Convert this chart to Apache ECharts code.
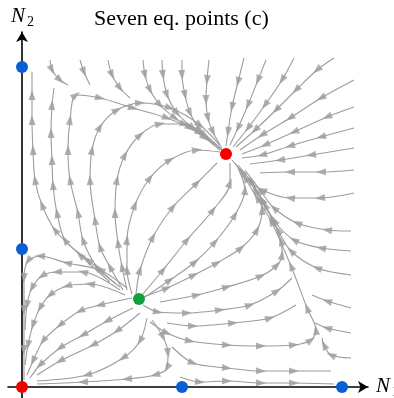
<!DOCTYPE html>
<html>
<head>
<meta charset="utf-8">
<script src="https://cdn.jsdelivr.net/npm/echarts@6/dist/echarts.min.js"></script>
<style>
html, body { margin: 0; padding: 0; background: #fff; }
#chart { width: 394px; height: 398px; }
</style>
</head>
<body>
<div id="chart"></div>
<script>
// equilibrium points (N1, N2)
const stablePoints = [[0, 0], [20.4, 23.3]];
const saddlePoints = [[16, 0], [32, 0], [0, 13.8], [0, 32]];
const unstablePoints = [[11.7, 8.8]];

// streamlines, in flow direction
const topInflow = [
	[[2.8, 32.7], [3.0, 31.7], [3.8, 30.7], [4.6, 30.2]],
	[[5.8, 32.7], [6.2, 31.5], [6.8, 30.2]],
	[[8.6, 32.7], [9.0, 31.2], [9.8, 29.9], [10.8, 28.9]],
	[[12.1, 32.7], [12.3, 31.2], [12.8, 29.7], [13.8, 28.2], [15.3, 26.9], [16.8, 25.9], [18.3, 24.9], [19.8, 23.7]],
	[[14.0, 32.7], [14.1, 31.2], [14.5, 29.2], [15.5, 27.4], [17.1, 25.9], [18.8, 24.7]],
	[[16.0, 32.7], [16.0, 31.2], [16.3, 29.2], [16.8, 27.4], [17.8, 25.7], [19.3, 24.2]],
	[[18.7, 32.7], [18.5, 30.7], [18.4, 28.7], [18.6, 26.9], [19.1, 25.5], [19.8, 24.2]],
	[[22.2, 32.9], [21.6, 30.5], [21.0, 28.0], [20.6, 25.5], [20.4, 24.1]],
	[[24.4, 32.7], [23.6, 30.7], [22.6, 28.2], [21.6, 25.9], [20.8, 24.2]],
	[[27.2, 32.9], [26.0, 30.7], [24.3, 28.2], [22.6, 25.9], [21.1, 24.0]],
	[[31.2, 32.9], [29.5, 31.7], [27.4, 29.7], [25.4, 27.7], [23.3, 25.7], [21.4, 24.0]]
];
const rightInflow = [
	[[33.2, 30.7], [29.9, 28.9], [26.8, 26.9], [24.0, 25.2], [21.8, 23.7]],
	[[33.2, 28.0], [30.5, 27.0], [27.2, 25.5], [24.3, 24.2], [22.0, 23.3]],
	[[33.2, 25.9], [29.9, 25.0], [26.8, 24.1], [24.0, 23.2], [22.0, 22.9]],
	[[33.2, 23.9], [28.9, 23.2], [25.8, 22.7], [22.8, 22.3]],
	[[33.2, 21.7], [29.9, 21.5], [26.8, 21.5], [23.8, 21.4]],
	[[33.2, 19.4], [29.8, 18.9], [26.8, 18.9], [24.0, 19.7], [22.3, 20.9]],
	[[32.9, 15.6], [30.5, 15.7], [27.5, 16.4], [25.2, 17.9], [23.8, 19.7], [22.3, 21.7]],
	[[32.9, 13.6], [29.9, 13.9], [27.2, 14.7], [25.2, 16.6], [24.0, 18.7], [22.8, 20.9]],
	[[32.9, 11.2], [29.5, 11.9], [26.9, 13.6], [25.6, 15.7], [24.3, 18.2], [22.8, 20.7]],
	[[32.9, 7.9], [30.5, 8.6], [29.0, 9.2]],
	[[32.9, 5.4], [30.5, 5.9], [29.3, 6.4]],
	[[32.9, 2.9], [30.9, 3.2], [30.2, 4.2], [30.0, 4.9]]
];
const greenRight = [
	[[12.1, 9.0], [14.5, 9.9], [17.2, 11.2], [19.5, 12.4], [21.9, 13.9], [23.5, 15.7], [24.0, 17.7], [23.3, 19.7], [22.0, 21.5], [21.0, 22.7]],
	[[13.8, 8.5], [17.5, 9.2], [20.5, 10.0], [23.9, 11.1], [25.5, 12.2], [26.0, 13.2], [25.9, 14.6], [25.0, 16.9], [24.0, 18.7], [22.8, 20.7], [21.6, 22.2]],
	[[12.1, 8.2], [13.6, 7.5], [16.5, 7.4], [19.8, 7.7], [22.8, 8.2], [25.5, 9.6], [27.0, 10.9]],
	[[14.5, 6.4], [17.1, 6.1], [21.1, 6.4], [24.8, 6.9], [27.4, 8.2]],
	[[12.8, 6.5], [14.5, 5.4], [16.8, 4.6], [20.5, 4.2], [23.9, 4.1], [27.2, 4.2], [28.9, 4.7], [29.4, 5.7], [28.5, 7.9], [26.9, 12.1], [24.9, 16.6], [23.5, 18.9], [22.3, 20.9], [21.3, 22.4]],
	[[15.0, 4.0], [17.1, 2.4], [20.5, 1.9], [23.9, 1.6], [27.2, 1.6], [30.9, 1.6]],
	[[15.8, 1.0], [17.8, 0.5], [20.5, 0.6], [23.9, 0.4], [27.2, 0.4], [31.2, 0.3]]
];
const greenDown = [
	[[13.0, 6.7], [14.1, 5.0], [14.6, 3.4], [14.5, 1.9], [13.3, 1.2], [10.5, 0.8], [6.1, 0.5], [1.5, 0.3]],
	[[11.0, 8.9], [7.8, 8.2], [5.8, 7.6], [3.8, 6.2], [2.1, 4.6], [1.1, 2.6], [0.5, 1.2]],
	[[11.1, 7.9], [8.5, 6.6], [6.1, 5.2], [3.8, 3.9], [1.8, 2.2], [0.8, 0.9]],
	[[11.8, 7.4], [9.5, 5.6], [7.1, 4.2], [3.8, 2.6], [1.5, 1.2]],
	[[12.5, 6.9], [11.8, 4.6], [10.1, 2.9], [6.5, 1.2], [1.5, 0.6]]
];
const greenLeft = [
	[[10.5, 9.9], [7.8, 11.7], [4.5, 12.4], [1.8, 13.1], [0.6, 12.6], [0.2, 10.9], [0.2, 7.7], [0.2, 3.7], [0.2, 0.7]],
	[[9.8, 9.7], [6.1, 11.5], [3.5, 11.5], [2.0, 11.1], [1.0, 9.9], [0.5, 8.2], [0.3, 5.7]],
	[[10.3, 9.2], [6.8, 10.3], [4.5, 10.1], [2.8, 9.2], [1.8, 7.9], [1.1, 6.2], [0.6, 4.2], [0.3, 2.2]]
];
const greenUp = [
	[[8.8, 10.5], [5.8, 13.2], [3.3, 15.7], [2.0, 18.2], [1.3, 20.7], [1.1, 23.7], [1.0, 26.7], [1.0, 29.2], [1.0, 31.5]],
	[[9.4, 10.3], [6.6, 12.7], [4.3, 14.7], [3.5, 17.4], [3.1, 20.2], [3.0, 22.7], [2.9, 25.4], [3.0, 28.2], [3.2, 29.9]],
	[[9.8, 10.0], [7.5, 12.0], [6.1, 14.7], [5.6, 17.4], [4.8, 20.7], [4.6, 23.7], [4.8, 26.7], [5.4, 29.2], [7.8, 28.9], [11.1, 27.9], [14.5, 26.9], [17.8, 25.4], [20.0, 23.7]],
	[[10.1, 9.7], [8.8, 12.0], [7.8, 14.0], [7.3, 16.7], [6.8, 20.7], [7.0, 23.7], [7.8, 26.0], [9.5, 27.7], [11.8, 28.4], [14.8, 27.9], [17.8, 26.2], [20.0, 23.9]],
	[[10.5, 9.7], [10.0, 12.0], [9.6, 14.4], [9.3, 17.4], [9.5, 20.7], [10.3, 23.2], [11.8, 25.2], [13.8, 26.3], [16.3, 26.3], [18.3, 25.2], [20.0, 23.7]],
	[[11.0, 9.3], [10.5, 11.7], [10.5, 14.7], [11.3, 18.2], [12.8, 20.9], [14.8, 22.7], [17.5, 23.7], [19.8, 23.5]],
	[[11.4, 9.3], [11.8, 11.7], [13.1, 15.0], [15.1, 18.0], [17.5, 20.4], [19.5, 22.4]],
	[[12.0, 9.2], [14.1, 11.7], [16.5, 14.7], [19.1, 17.7], [20.8, 20.4], [20.8, 22.4]],
	[[12.3, 9.0], [14.8, 10.7], [17.3, 12.5], [19.3, 14.5], [21.3, 17.2], [22.3, 19.7], [21.6, 21.9]]
];

const flowColor = '#9c9c9c';
const serif = '"Liberation Serif", "DejaVu Serif", serif';

let chart = echarts.init(document.getElementById('chart'));

function arrowMarks(flow) {
	let marks = [];
	for (let i = 1; i < flow.length - 1; i++) {
		let dx = flow[i + 1][0] - flow[i - 1][0],
			dy = flow[i + 1][1] - flow[i - 1][1];
		// triangle points up by default, both axes use the same px per unit
		marks.push({ value: flow[i], symbolRotate: Math.atan2(dy, dx) * 180 / Math.PI - 90 });
	}
	return marks;
}

const flows = [].concat(topInflow, rightInflow, greenRight, greenDown, greenLeft, greenUp);

let series = flows.map(flow => ({
	type: 'line',
	data: flow,
	smooth: 0.3,
	showSymbol: false,
	silent: true,
	lineStyle: { color: flowColor, width: 1.1 },
	z: 1
}));

series.push({
	type: 'scatter',
	data: flows.flatMap(arrowMarks),
	symbol: 'triangle',
	symbolSize: [7, 10],
	itemStyle: { color: flowColor },
	silent: true,
	z: 2
});

[[stablePoints, '#f20000'], [saddlePoints, '#0b5fd4'], [unstablePoints, '#13a23a']].forEach(([pts, color]) => {
	series.push({
		type: 'scatter',
		data: pts,
		symbolSize: 12,
		itemStyle: { color, opacity: 1 },
		silent: true,
		z: 5
	});
});

const axisCommon = {
	type: 'value',
	splitLine: { show: false },
	axisTick: { show: false },
	axisLabel: { show: false },
	axisLine: {
		onZero: true,
		symbol: ['none', 'arrow'],
		symbolSize: [9, 10],
		lineStyle: { color: '#000', width: 1.6 }
	}
};

chart.setOption({
	animation: false,
	title: {
		text: 'Seven eq. points (c)',
		left: 89,
		top: 3,
		textStyle: { fontFamily: serif, fontWeight: 'normal', fontSize: 22, color: '#000' }
	},
	grid: { left: 8, right: 26, top: 32, bottom: 0 },
	xAxis: Object.assign({ min: -1.4, max: 34.6 }, axisCommon),
	yAxis: Object.assign({ min: -1.1, max: 35.5 }, axisCommon),
	graphic: [
		{ type: 'text', left: 11, top: 6, style: { text: 'N', font: 'italic 21px ' + serif, fill: '#000' } },
		{ type: 'text', left: 27, top: 15, style: { text: '2', font: '14px ' + serif, fill: '#000' } },
		{ type: 'text', left: 376, top: 376, style: { text: 'N', font: 'italic 21px ' + serif, fill: '#000' } },
		{ type: 'text', left: 392, top: 385, style: { text: '1', font: '14px ' + serif, fill: '#000' } }
	],
	series
});
</script>
</body>
</html>
